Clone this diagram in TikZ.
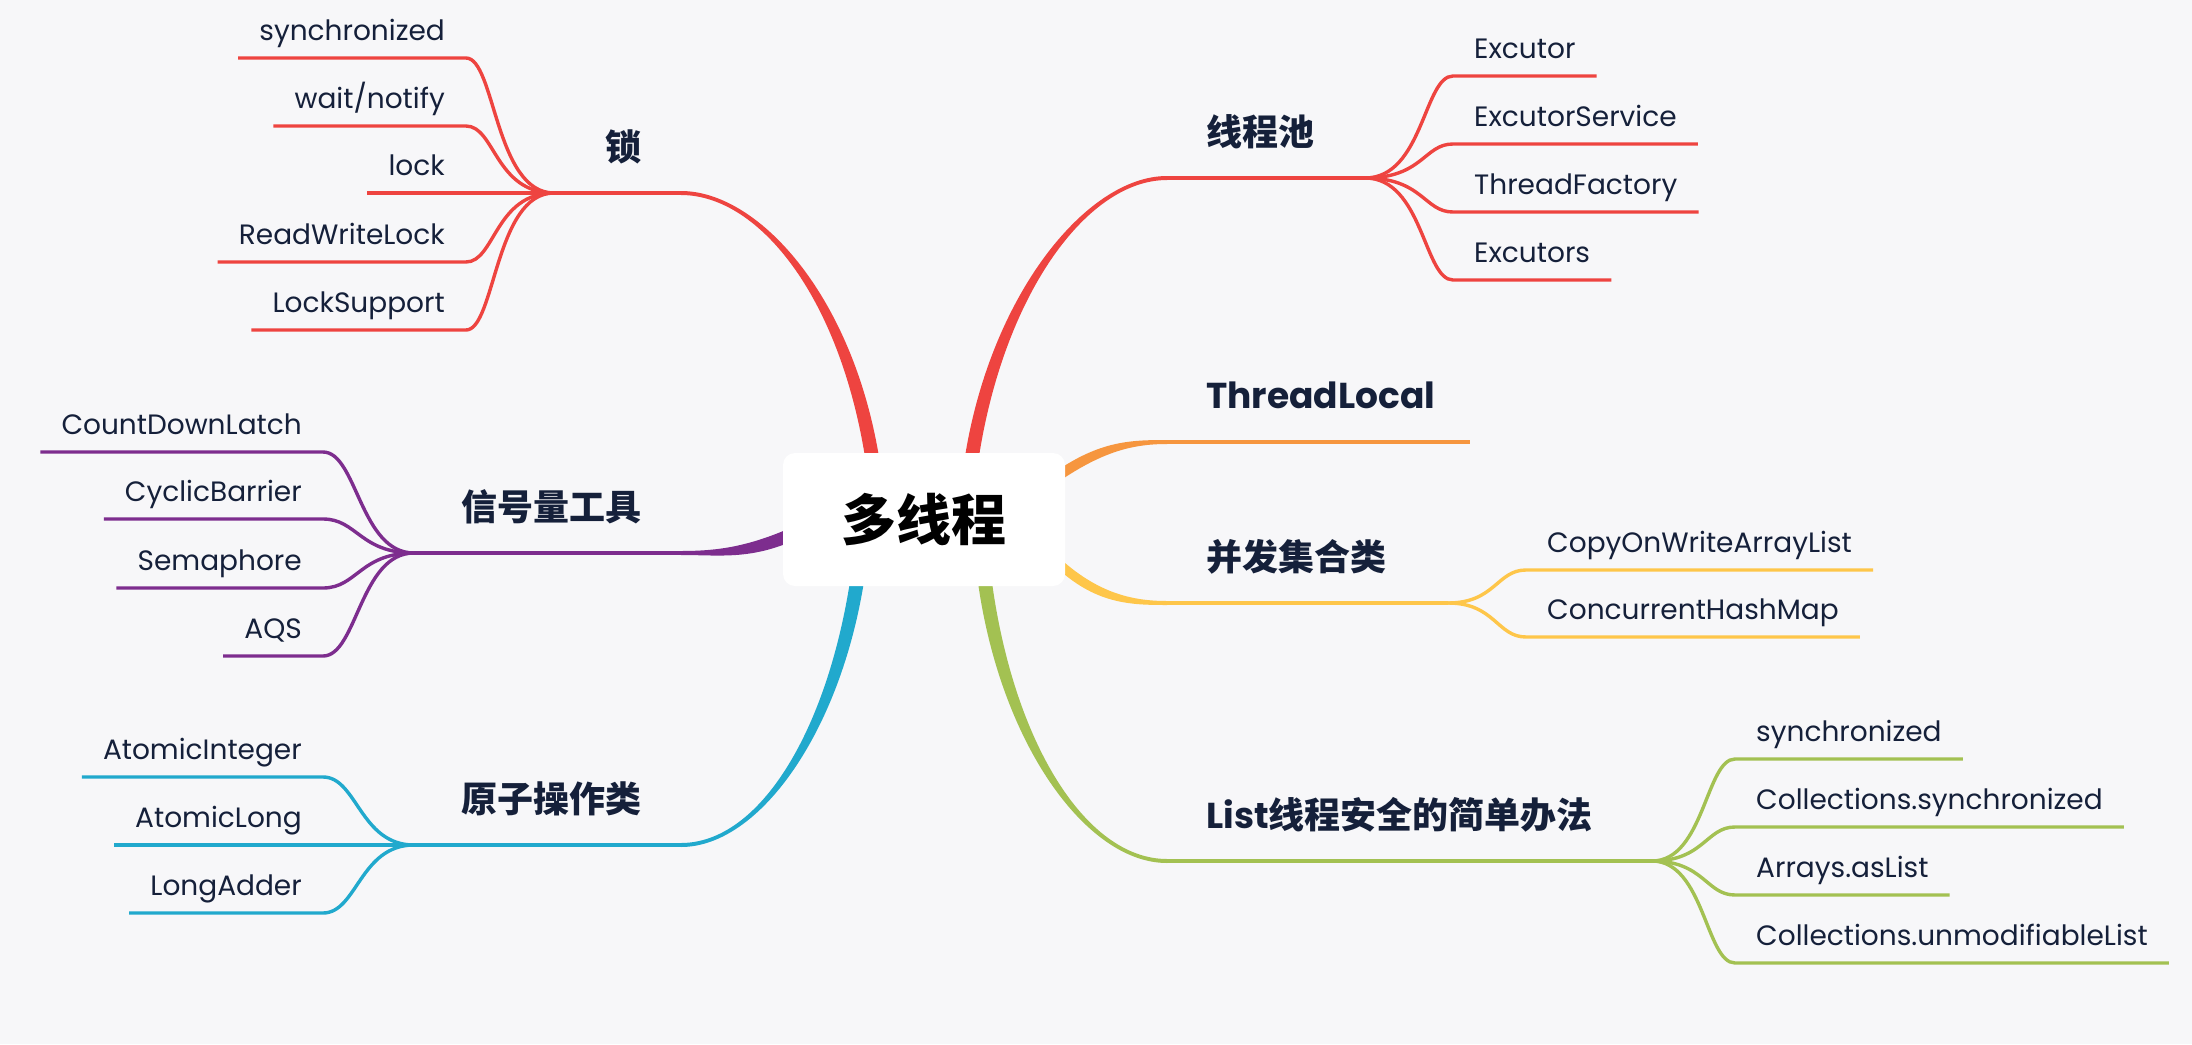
\documentclass[tikz,border=0pt]{standalone}
\usepackage{fontspec}
\setmainfont{Poppins}
\newfontfamily\cjk{Noto Sans CJK SC}
\usepackage{tikz}
\usetikzlibrary{calc}

\definecolor{bg}{HTML}{F7F7F9}
\definecolor{ink}{HTML}{15203A}
\definecolor{lockred}{HTML}{EE4440}
\definecolor{semapurple}{HTML}{7D2D8E}
\definecolor{atomblue}{HTML}{21A9CD}
\definecolor{localorange}{HTML}{F6963F}
\definecolor{setyellow}{HTML}{FEC64A}
\definecolor{listgreen}{HTML}{A3C152}

% tapered main branch: colour, start, control 1, control 2, end, half width at start
\newcommand{\taper}[6]{%
  \fill[#1] ($(#2)+(#6)$) .. controls ($(#3)+(#6)$) and ($(#4)+(0,-2)$) .. ($(#5)+(0,-2)$)
    -- ($(#5)+(0,2)$) .. controls ($(#4)+(0,2)$) and ($(#3)-(#6)$) .. ($(#2)-(#6)$) -- cycle;}

\begin{document}
\begin{tikzpicture}[x=1pt, y=-1pt,
        sub/.style={font=\fontsize{28}{33}\selectfont, text=ink, inner xsep=21pt,
            inner ysep=0pt, text depth=17pt},
        topic/.style={font=\fontsize{36}{42}\selectfont\bfseries, text=ink, inner sep=0pt},
        stem/.style={line width=4pt},
        twig/.style={line width=3.4pt}]
        \fill[bg] (0,0) rectangle (2192,1044);

        \coordinate (lock-b) at (681,193);
        \coordinate (lock-j) at (554,193);
        \coordinate (pool-b) at (1167,178);
        \coordinate (pool-j) at (1365,178);
        \coordinate (local-b) at (1167,442);
        \coordinate (local-e) at (1470,442);
        \coordinate (sema-b) at (681,553);
        \coordinate (sema-j) at (414,553);
        \coordinate (set-b) at (1167,603);
        \coordinate (set-j) at (1448,603);
        \coordinate (atom-b) at (681,845);
        \coordinate (atom-j) at (414,845);
        \coordinate (list-b) at (1167,861);
        \coordinate (list-j) at (1652,861);

        \taper{lockred}{874,470}{850,300}{760,193}{lock-b}{7,0}
        \taper{lockred}{970,470}{993,300}{1085,178}{pool-b}{-7,0}
        \taper{localorange}{1055,478}{1100,447}{1130,442}{local-b}{0,-6}
        \taper{semapurple}{795,533}{750,553}{720,553}{sema-b}{0,-7}
        \taper{setyellow}{1055,560}{1095,598}{1130,603}{set-b}{0,-6}
        \taper{atomblue}{858,575}{835,730}{760,845}{atom-b}{-7,0}
        \taper{listgreen}{984,575}{1005,740}{1085,861}{list-b}{7,0}

        \draw[lockred, stem] (lock-b) -- (lock-j);
        \draw[lockred, stem] (pool-b) -- (pool-j);
        \draw[localorange, stem] (local-b) -- (local-e);
        \draw[semapurple, stem] (sema-b) -- (sema-j);
        \draw[setyellow, stem] (set-b) -- (set-j);
        \draw[atomblue, stem] (atom-b) -- (atom-j);
        \draw[listgreen, stem] (list-b) -- (list-j);

        \node[topic, anchor=base east] (lock) at (642,160) {\cjk 锁};
        \node[topic, anchor=base west] (pool) at (1206,145) {\cjk 线程池};
        \node[topic, anchor=base west] (local) at (1206,408) {ThreadLocal};
        \node[topic, anchor=base east] (sema) at (642,520) {\cjk 信号量工具};
        \node[topic, anchor=base west] (set) at (1206,570) {\cjk 并发集合类};
        \node[topic, anchor=base east] (atom) at (642,812) {\cjk 原子操作类};
        \node[topic, anchor=base west] (list) at (1206,828) {List{\cjk 线程安全的简单办法}};

        \node[sub, anchor=south east] (sync) at (466,58) {synchronized};
        \node[sub, anchor=south east] (wait) at (466,126) {wait/notify};
        \node[sub, anchor=south east] (lk) at (466,193) {lock};
        \node[sub, anchor=south east] (rwlock) at (466,262) {ReadWriteLock};
        \node[sub, anchor=south east] (support) at (466,330) {LockSupport};
        \draw[lockred, twig] (lock-j) .. controls +(-59,0) and +(29,0) .. (sync.south east) -- (sync.south west);
        \draw[lockred, twig] (lock-j) .. controls +(-59,0) and +(29,0) .. (wait.south east) -- (wait.south west);
        \draw[lockred, twig] (lock-j) -- (lk.south west);
        \draw[lockred, twig] (lock-j) .. controls +(-59,0) and +(29,0) .. (rwlock.south east) -- (rwlock.south west);
        \draw[lockred, twig] (lock-j) .. controls +(-59,0) and +(29,0) .. (support.south east) -- (support.south west);

        \node[sub, anchor=south west] (exec) at (1453,76) {Excutor};
        \node[sub, anchor=south west] (service) at (1453,144) {ExcutorService};
        \node[sub, anchor=south west] (factory) at (1453,212) {ThreadFactory};
        \node[sub, anchor=south west] (execs) at (1453,280) {Excutors};
        \draw[lockred, twig] (pool-j) .. controls +(58,0) and +(-29,0) .. (exec.south west) -- (exec.south east);
        \draw[lockred, twig] (pool-j) .. controls +(58,0) and +(-29,0) .. (service.south west) -- (service.south east);
        \draw[lockred, twig] (pool-j) .. controls +(58,0) and +(-29,0) .. (factory.south west) -- (factory.south east);
        \draw[lockred, twig] (pool-j) .. controls +(58,0) and +(-29,0) .. (execs.south west) -- (execs.south east);

        \node[sub, anchor=south east] (latch) at (323,452) {CountDownLatch};
        \node[sub, anchor=south east] (barrier) at (323,519) {CyclicBarrier};
        \node[sub, anchor=south east] (semaphore) at (323,588) {Semaphore};
        \node[sub, anchor=south east] (aqs) at (323,656) {AQS};
        \draw[semapurple, twig] (sema-j) .. controls +(-54,0) and +(34,0) .. (latch.south east) -- (latch.south west);
        \draw[semapurple, twig] (sema-j) .. controls +(-54,0) and +(34,0) .. (barrier.south east) -- (barrier.south west);
        \draw[semapurple, twig] (sema-j) .. controls +(-54,0) and +(34,0) .. (semaphore.south east) -- (semaphore.south west);
        \draw[semapurple, twig] (sema-j) .. controls +(-54,0) and +(34,0) .. (aqs.south east) -- (aqs.south west);

        \node[sub, anchor=south west] (cow) at (1526,570) {CopyOnWriteArrayList};
        \node[sub, anchor=south west] (chm) at (1526,637) {ConcurrentHashMap};
        \draw[setyellow, twig] (set-j) .. controls +(47,0) and +(-29,0) .. (cow.south west) -- (cow.south east);
        \draw[setyellow, twig] (set-j) .. controls +(47,0) and +(-29,0) .. (chm.south west) -- (chm.south east);

        \node[sub, anchor=south east] (aint) at (323,777) {AtomicInteger};
        \node[sub, anchor=south east] (along) at (323,845) {AtomicLong};
        \node[sub, anchor=south east] (adder) at (323,913) {LongAdder};
        \draw[atomblue, twig] (atom-j) .. controls +(-54,0) and +(34,0) .. (aint.south east) -- (aint.south west);
        \draw[atomblue, twig] (atom-j) -- (along.south west);
        \draw[atomblue, twig] (atom-j) .. controls +(-54,0) and +(34,0) .. (adder.south east) -- (adder.south west);

        \node[sub, anchor=south west] (lsync) at (1735,759) {synchronized};
        \node[sub, anchor=south west] (csync) at (1735,827) {Collections.synchronized};
        \node[sub, anchor=south west] (aslist) at (1735,895) {Arrays.asList};
        \node[sub, anchor=south west] (unmod) at (1735,963) {Collections.unmodifiableList};
        \draw[listgreen, twig] (list-j) .. controls +(52,0) and +(-29,0) .. (lsync.south west) -- (lsync.south east);
        \draw[listgreen, twig] (list-j) .. controls +(52,0) and +(-29,0) .. (csync.south west) -- (csync.south east);
        \draw[listgreen, twig] (list-j) .. controls +(52,0) and +(-29,0) .. (aslist.south west) -- (aslist.south east);
        \draw[listgreen, twig] (list-j) .. controls +(52,0) and +(-29,0) .. (unmod.south west) -- (unmod.south east);

        \node[fill=white, rounded corners=12pt, minimum width=282pt, minimum height=133pt,
            font=\cjk\fontsize{55}{60}\selectfont\bfseries] (hub) at (924,519.5) {多线程};
    \end{tikzpicture}
\end{document}
